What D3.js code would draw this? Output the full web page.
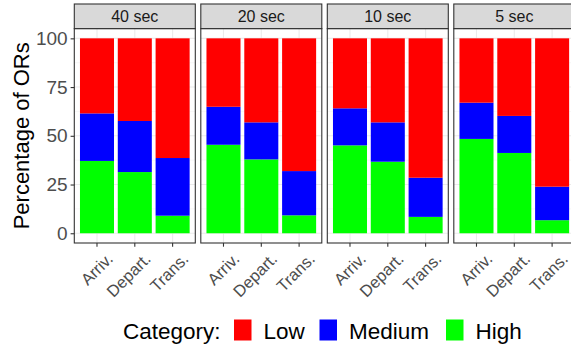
<!DOCTYPE html>
<html><head><meta charset="utf-8">
<script src="https://cdn.jsdelivr.net/npm/d3@7"></script>
<style>body{margin:0;background:#fff}svg{display:block;font-family:"Liberation Sans",Arial,sans-serif}</style>
</head><body>
<svg id="c" width="571" height="349"></svg>
<script>
const facets = ["40 sec", "20 sec", "10 sec", "5 sec"];
const categories = ["Arriv.", "Depart.", "Trans."];
// values per facet, in category order
const high   = [[37.1, 31.4, 9.0], [45.4, 37.9, 9.2], [45.1, 36.7, 8.4], [48.4, 41.2, 6.7]];
const medium = [[24.4, 26.2, 29.6], [19.5, 19.0, 22.7], [19.0, 20.2, 20.1], [18.6, 19.0, 17.2]];
const low    = [[38.5, 42.4, 61.4], [35.1, 43.1, 68.1], [35.9, 43.1, 71.5], [33.0, 39.8, 76.1]];
const levels = ["Low", "Medium", "High"];
const colors = {Low: "#FF0000", Medium: "#0000FF", High: "#00FF00"};
const yTicks = [0, 25, 50, 75, 100];

const svg = d3.select("#c");
const panelW = 121, step = 126.5, left0 = 74.3;
const panelTop = 28.6, panelBot = 243, stripTop = 4;

const y = d3.scaleLinear().domain([-5, 105]).range([panelBot, panelTop]);
const fx = d3.scaleBand().domain(facets).range([left0, left0 + step * facets.length]).paddingInner(0);

facets.forEach((f, fi) => {
  const x0 = fx(f);
  const x = d3.scaleBand().domain(categories).range([x0, x0 + panelW]).paddingInner(0.1).paddingOuter(0.15);
  const g = svg.append("g");
  // grid
  const minor = [12.5, 37.5, 62.5, 87.5];
  g.selectAll(".mn").data(minor).join("line")
    .attr("x1", x0).attr("x2", x0 + panelW).attr("y1", d => y(d)).attr("y2", d => y(d))
    .attr("stroke", "#F2F2F2").attr("stroke-width", 0.6);
  g.selectAll(".mj").data(yTicks).join("line")
    .attr("x1", x0).attr("x2", x0 + panelW).attr("y1", d => y(d)).attr("y2", d => y(d))
    .attr("stroke", "#EBEBEB").attr("stroke-width", 1.1);
  g.selectAll(".vx").data(categories).join("line")
    .attr("x1", d => x(d) + x.bandwidth() / 2).attr("x2", d => x(d) + x.bandwidth() / 2)
    .attr("y1", panelTop).attr("y2", panelBot)
    .attr("stroke", "#EBEBEB").attr("stroke-width", 1.1);
  // stacked bars
  const rows = categories.map((c, i) => ({cat: c, High: high[fi][i], Medium: medium[fi][i], Low: low[fi][i]}));
  const stack = d3.stack().keys(["High", "Medium", "Low"])(rows);
  stack.forEach(s => {
    g.selectAll(null).data(s).join("rect")
      .attr("x", d => x(d.data.cat)).attr("width", x.bandwidth())
      .attr("y", d => y(d[1])).attr("height", d => y(d[0]) - y(d[1]))
      .attr("fill", colors[s.key]);
  });
  // panel border
  g.append("rect").attr("x", x0).attr("y", panelTop).attr("width", panelW).attr("height", panelBot - panelTop)
    .attr("fill", "none").attr("stroke", "#333333").attr("stroke-width", 1.1);
  // strip
  g.append("rect").attr("x", x0).attr("y", stripTop).attr("width", panelW).attr("height", panelTop - stripTop)
    .attr("fill", "#D9D9D9").attr("stroke", "#333333").attr("stroke-width", 1.1);
  g.append("text").attr("x", x0 + panelW / 2).attr("y", (stripTop + panelTop) / 2).attr("dy", "0.36em")
    .attr("text-anchor", "middle").attr("font-size", 16).attr("fill", "#1A1A1A").text(f);
  // x axis
  const xa = g.append("g").attr("transform", `translate(0,${panelBot})`)
    .call(d3.axisBottom(x).tickSize(3.7).tickSizeOuter(0));
  xa.select(".domain").remove();
  xa.selectAll(".tick line").attr("stroke", "#333333").attr("stroke-width", 1.1);
  xa.selectAll(".tick text").attr("font-size", 16.5).attr("fill", "#4D4D4D")
    .attr("text-anchor", "end").attr("y", 0).attr("dy", 0)
    .attr("transform", "translate(17,17) rotate(-45)");
  if (fi === 0) {
    const ya = svg.append("g").attr("transform", `translate(${x0},0)`)
      .call(d3.axisLeft(y).tickValues(yTicks).tickSize(3.7).tickPadding(3));
    ya.select(".domain").remove();
    ya.selectAll(".tick line").attr("stroke", "#333333").attr("stroke-width", 1.1);
    ya.selectAll(".tick text").attr("font-size", 19).attr("fill", "#4D4D4D").attr("font-family", "Liberation Sans, Arial, sans-serif");
  }
});

// y title
svg.append("text").attr("transform", `translate(29,${(panelTop + panelBot) / 2}) rotate(-90)`)
  .attr("text-anchor", "middle").attr("font-size", 22).attr("fill", "#000").text("Percentage of ORs");

// legend
const lg = svg.append("g").attr("font-size", 22.5);
lg.append("text").attr("x", 123).attr("y", 339).attr("fill", "#000").text("Category:");
const keyX = {Low: 234, Medium: 319.5, High: 446};
levels.forEach(l => {
  lg.append("rect").attr("x", keyX[l]).attr("y", 319.5).attr("width", 17.5).attr("height", 21)
    .attr("fill", colors[l]);
  lg.append("text").attr("x", keyX[l] + 29.5).attr("y", 339).attr("fill", "#000").text(l);
});
</script>
</body></html>
